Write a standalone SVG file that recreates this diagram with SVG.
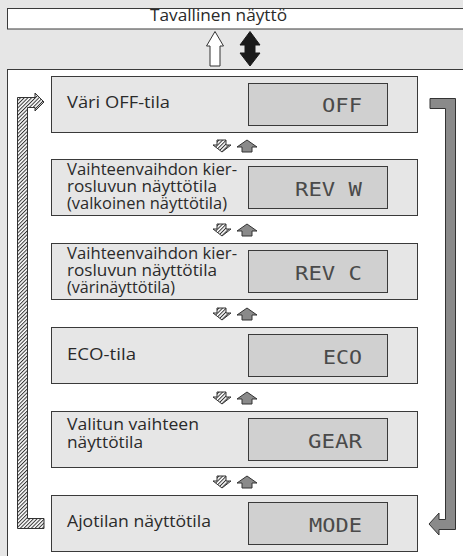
<svg xmlns="http://www.w3.org/2000/svg" width="463" height="556" viewBox="0 0 463 556">
<style>
.frame{fill:#fff;stroke:#3a3a3a;stroke-width:1}
.box{fill:#e6e6e6;stroke:#3a3a3a;stroke-width:1}
.lcd{fill:#d0d0d0;stroke:#3a3a3a;stroke-width:1}
.lbl{font-family:"Open Sans","Noto Sans",sans-serif;font-size:15.5px;fill:#2a2a2a}
.seg{font-family:"DejaVu Sans Mono","Liberation Mono",monospace;font-size:19px;fill:#4a4a4a;text-anchor:end}
.hatch{fill:url(#hp);stroke:#333;stroke-width:1}
.grey{fill:#8a8a8a;stroke:#333;stroke-width:1}
.white{fill:#fff;stroke:#333;stroke-width:1}
.black{fill:#1a1a1a;stroke:#1a1a1a;stroke-width:1}
</style>
<defs>
<pattern id="hp" patternUnits="userSpaceOnUse" width="2.6" height="2.6" patternTransform="rotate(45)">
<rect width="2.6" height="2.6" fill="#fff"/>
<line x1="0.5" y1="0" x2="0.5" y2="2.6" stroke="#333" stroke-width="1"/>
</pattern>
<g id="dn"><path class="hatch" d="M-5,0 H4 V5 H9 L0,12 L-9,5 H-5 Z"/></g>
<g id="up"><path class="grey" d="M0,0 L10,7 H5 V12 H-5 V7 H-10 Z"/></g>
</defs>
<rect width="463" height="556" fill="#e6e6e6"/>
<g id="top">
<rect class="frame" x="7.5" y="8.5" width="470" height="20.5"/>
<text class="lbl" x="218.5" y="21" text-anchor="middle" style="font-size:16.5px" textLength="137" lengthAdjust="spacingAndGlyphs">Tavallinen näyttö</text>
</g>
<rect class="frame" x="7.5" y="69.5" width="470" height="500"/>
<g id="n1">
<rect class="box" x="51.5" y="76.5" width="366" height="56"/>
<rect class="lcd" x="248.5" y="83.5" width="139" height="42"/>
<text class="lbl" x="67" y="108" textLength="103" lengthAdjust="spacingAndGlyphs">Väri OFF-tila</text>
<text class="seg" x="362" y="112" textLength="40" lengthAdjust="spacingAndGlyphs">OFF</text>
</g>
<g id="n2">
<rect class="box" x="51.5" y="159.5" width="366" height="56"/>
<rect class="lcd" x="248.5" y="166.5" width="139" height="42"/>
<text class="lbl" x="67" y="175" textLength="170" lengthAdjust="spacingAndGlyphs">Vaihteenvaihdon kier-</text>
<text class="lbl" x="67" y="192" textLength="150" lengthAdjust="spacingAndGlyphs">rosluvun näyttötila</text>
<text class="lbl" x="67" y="209" textLength="160" lengthAdjust="spacingAndGlyphs">(valkoinen näyttötila)</text>
<text class="seg" x="362" y="196" textLength="67" lengthAdjust="spacingAndGlyphs">REV W</text>
</g>
<g id="n3">
<rect class="box" x="51.5" y="243.5" width="366" height="56"/>
<rect class="lcd" x="248.5" y="250.5" width="139" height="42"/>
<text class="lbl" x="67" y="259" textLength="170" lengthAdjust="spacingAndGlyphs">Vaihteenvaihdon kier-</text>
<text class="lbl" x="67" y="276" textLength="150" lengthAdjust="spacingAndGlyphs">rosluvun näyttötila</text>
<text class="lbl" x="67" y="293" textLength="108" lengthAdjust="spacingAndGlyphs">(värinäyttötila)</text>
<text class="seg" x="362" y="280" textLength="67" lengthAdjust="spacingAndGlyphs">REV C</text>
</g>
<g id="n4">
<rect class="box" x="51.5" y="327.5" width="366" height="56"/>
<rect class="lcd" x="248.5" y="334.5" width="139" height="42"/>
<text class="lbl" x="67" y="360" textLength="69" lengthAdjust="spacingAndGlyphs">ECO-tila</text>
<text class="seg" x="362" y="364" textLength="39" lengthAdjust="spacingAndGlyphs">ECO</text>
</g>
<g id="n5">
<rect class="box" x="51.5" y="411.5" width="366" height="56"/>
<rect class="lcd" x="248.5" y="418.5" width="139" height="42"/>
<text class="lbl" x="67" y="430" textLength="132" lengthAdjust="spacingAndGlyphs">Valitun vaihteen</text>
<text class="lbl" x="67" y="448" textLength="76" lengthAdjust="spacingAndGlyphs">näyttötila</text>
<text class="seg" x="362" y="448" textLength="54" lengthAdjust="spacingAndGlyphs">GEAR</text>
</g>
<g id="n6">
<rect class="box" x="51.5" y="495.5" width="366" height="56"/>
<rect class="lcd" x="248.5" y="502.5" width="139" height="42"/>
<text class="lbl" x="67" y="527" textLength="144" lengthAdjust="spacingAndGlyphs">Ajotilan näyttötila</text>
<text class="seg" x="362" y="532" textLength="53" lengthAdjust="spacingAndGlyphs">MODE</text>
</g>
<g id="connectors">
<path class="white" d="M215,31.5 L223.5,46 H220 V66 H210 V46 H206.5 Z"/>
<path class="black" d="M250,31.5 L260,45 H255 V53 H260 L250,66 L240,53 H245 V45 H240 Z"/>
<path class="hatch" d="M17.5,97.5 H35 V93 L44,102 L35,111 V107.5 H27.5 V518.5 H44 V528.5 H17.5 Z"/>
<path class="grey" d="M430,98.5 H455.5 V529.5 H439 V535 L429,524 L439,513 V519.5 H445.5 V108.5 H430 Z"/>
<use href="#dn" x="222" y="140"/><use href="#up" x="247" y="140"/>
<use href="#dn" x="222" y="224"/><use href="#up" x="247" y="224"/>
<use href="#dn" x="222" y="308"/><use href="#up" x="247" y="308"/>
<use href="#dn" x="222" y="392"/><use href="#up" x="247" y="392"/>
<use href="#dn" x="222" y="476"/><use href="#up" x="247" y="476"/>
</g>
</svg>
